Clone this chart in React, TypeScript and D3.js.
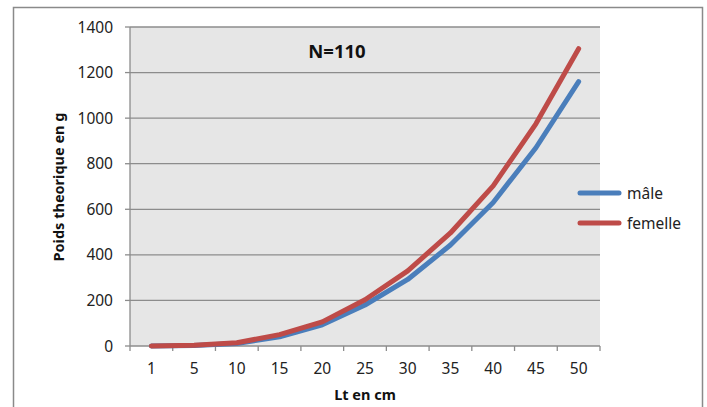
import React from "react";
import * as d3 from "d3";

const categories = ["1", "5", "10", "15", "20", "25", "30", "35", "40", "45", "50"];
const maleValues = [0, 2, 11, 40, 93, 180, 292, 443, 630, 870, 1160];
const femaleValues = [0, 3, 14, 50, 106, 203, 330, 496, 703, 975, 1305];
const yTicks = [0, 200, 400, 600, 800, 1000, 1200, 1400];
const seriesNames = ["mâle", "femelle"];
const seriesColors = ["#4a7ebb", "#be4b48"];

const W = 707;
const H = 407;
const plot = { left: 130, right: 600, top: 27, bottom: 346 };
const font = "'Noto Sans', 'Open Sans', sans-serif";

export default function App() {
  const x = d3
    .scaleBand<string>()
    .domain(categories)
    .range([plot.left, plot.right]);
  const y = d3.scaleLinear().domain([0, 1400]).range([plot.bottom, plot.top]);
  const line = d3
    .line<number>()
    .x((_, i) => (x(categories[i]) as number) + x.bandwidth() / 2)
    .y((d) => y(d));
  const series = [maleValues, femaleValues];

  return (
    <svg
      width={W}
      height={H}
      style={{ position: "absolute", left: 0, top: 0, background: "#fff" }}
    >
      <rect x={13.5} y={7.5} width={689} height={420} fill="#fff" stroke="#8a8a8a" strokeWidth={1.5} />
      <rect
        x={plot.left}
        y={plot.top}
        width={plot.right - plot.left}
        height={plot.bottom - plot.top}
        fill="#e6e6e6"
      />
      {yTicks.map((t) => (
        <g key={t}>
          {t > 0 && (
            <line x1={plot.left} x2={plot.right} y1={y(t)} y2={y(t)} stroke="#8c8c8c" strokeWidth={1.3} />
          )}
          <line x1={plot.left - 5} x2={plot.left} y1={y(t)} y2={y(t)} stroke="#8c8c8c" strokeWidth={1.3} />
          <text
            x={113}
            y={y(t)}
            dy="0.36em"
            textAnchor="end"
            fontFamily={font}
            fontSize={15.5}
            fill="#222"
          >
            {t}
          </text>
        </g>
      ))}
      <line x1={plot.left} x2={plot.left} y1={plot.top} y2={plot.bottom} stroke="#8c8c8c" strokeWidth={1.3} />
      <line x1={plot.left} x2={plot.right} y1={plot.bottom} y2={plot.bottom} stroke="#8c8c8c" strokeWidth={1.3} />
      {categories.map((c) => (
        <line
          key={"t" + c}
          x1={x(c) as number}
          x2={x(c) as number}
          y1={plot.bottom}
          y2={plot.bottom + 5}
          stroke="#8c8c8c"
          strokeWidth={1.3}
        />
      ))}
      <line x1={plot.right} x2={plot.right} y1={plot.bottom} y2={plot.bottom + 5} stroke="#8c8c8c" strokeWidth={1.3} />
      {categories.map((c) => (
        <text
          key={c}
          x={(x(c) as number) + x.bandwidth() / 2}
          y={368}
          dy="0.36em"
          textAnchor="middle"
          fontFamily={font}
          fontSize={15.5}
          fill="#222"
        >
          {c}
        </text>
      ))}
      {series.map((s, i) => (
        <path
          key={i}
          d={line(s) as string}
          fill="none"
          stroke={seriesColors[i]}
          strokeWidth={5}
          strokeLinecap="round"
          strokeLinejoin="round"
        />
      ))}
      <text x={337} y={51} dy="0.36em" textAnchor="middle" fontFamily={font} fontSize={18.5} fontWeight="bold" fill="#111">
        N=110
      </text>
      <text x={365} y={395} dy="0.36em" textAnchor="middle" fontFamily={font} fontSize={14.5} fontWeight="bold" fill="#111">
        Lt en cm
      </text>
      <text
        transform="translate(59,187) rotate(-90)"
        dy="0.36em"
        textAnchor="middle"
        fontFamily={font}
        fontSize={14.5}
        fontWeight="bold"
        fill="#111"
      >
        Poids theorique en g
      </text>
      {seriesNames.map((n, i) => (
        <g key={n}>
          <line
            x1={580}
            x2={619}
            y1={193 + i * 30}
            y2={193 + i * 30}
            stroke={seriesColors[i]}
            strokeWidth={5}
            strokeLinecap="round"
          />
          <text x={627} y={193 + i * 30} dy="0.36em" fontFamily={font} fontSize={15.5} fill="#222">
            {n}
          </text>
        </g>
      ))}
    </svg>
  );
}
